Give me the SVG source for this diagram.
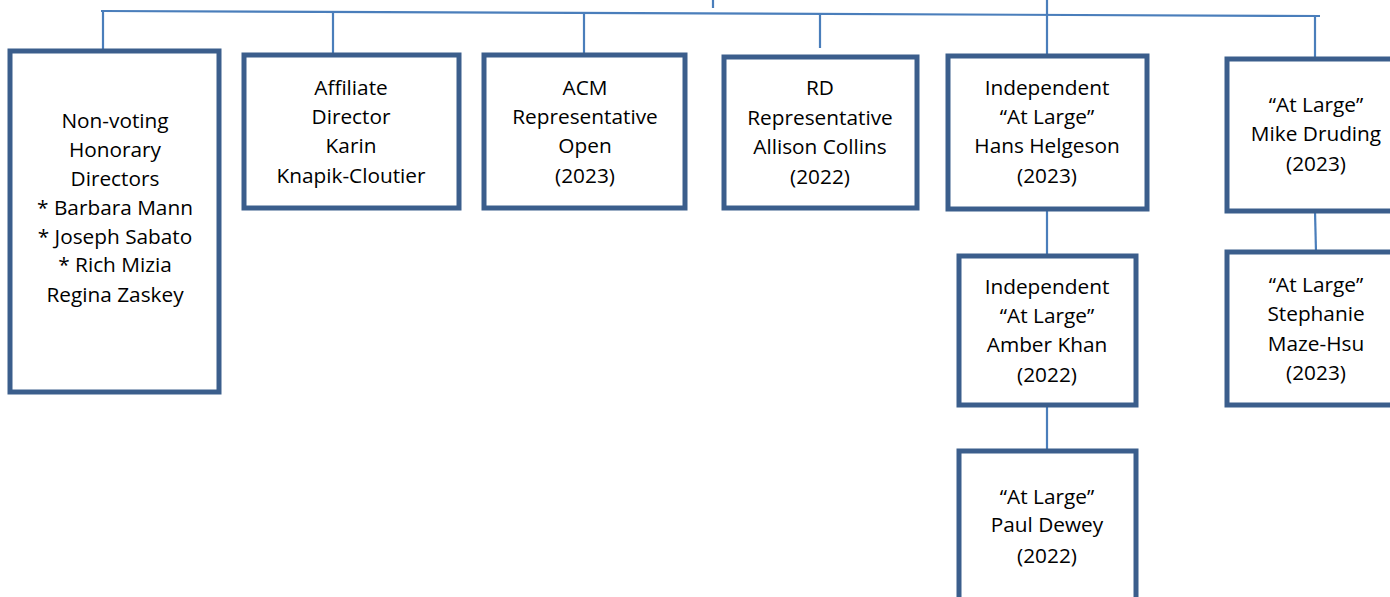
<svg xmlns="http://www.w3.org/2000/svg" width="1390" height="597" viewBox="0 0 1390 597">
<style>
.box{fill:#fff;stroke:#3B5E8C;stroke-width:5}
.c{stroke:#4A7EBB;stroke-width:2.2;fill:none}
text{font-family:"Open Sans","Liberation Sans",sans-serif;font-size:20.8px;fill:#000;text-anchor:middle}
</style>
<rect width="1390" height="597" fill="#fff"/>
<g id="connectors">
<line class="c" x1="101" y1="11" x2="1320" y2="16"/>
<line class="c" x1="713" y1="0" x2="713" y2="8"/>
<line class="c" x1="103" y1="11" x2="103" y2="50"/>
<line class="c" x1="333" y1="12" x2="333" y2="55"/>
<line class="c" x1="584" y1="13" x2="584" y2="55"/>
<line class="c" x1="820" y1="14" x2="820" y2="48"/>
<line class="c" x1="1047" y1="0" x2="1047" y2="55"/>
<line class="c" x1="1315" y1="16" x2="1315" y2="59"/>
<line class="c" x1="1047" y1="209" x2="1047" y2="256"/>
<line class="c" x1="1315" y1="211" x2="1316" y2="252"/>
<line class="c" x1="1047" y1="405" x2="1047" y2="451"/>
</g>
<g id="n1"><rect class="box" x="10" y="51" width="209" height="341"/>
<text x="115" y="128">Non-voting</text><text x="115" y="157">Honorary</text><text x="115" y="186">Directors</text><text x="115" y="215">* Barbara Mann</text><text x="115" y="244">* Joseph Sabato</text><text x="115" y="272">* Rich Mizia</text><text x="115" y="302">Regina Zaskey</text></g>
<g id="n2"><rect class="box" x="244" y="55" width="215" height="153"/>
<text x="351" y="95">Affiliate</text><text x="351" y="124">Director</text><text x="351" y="153">Karin</text><text x="351" y="183">Knapik-Cloutier</text></g>
<g id="n3"><rect class="box" x="484" y="55" width="201" height="153"/>
<text x="585" y="95">ACM</text><text x="585" y="124">Representative</text><text x="585" y="153">Open</text><text x="585" y="183">(2023)</text></g>
<g id="n4"><rect class="box" x="724" y="57" width="193" height="151"/>
<text x="820" y="95">RD</text><text x="820" y="125">Representative</text><text x="820" y="154">Allison Collins</text><text x="820" y="184">(2022)</text></g>
<g id="n5"><rect class="box" x="948" y="56" width="199" height="153"/>
<text x="1047" y="95">Independent</text><text x="1047" y="124">“At Large”</text><text x="1047" y="153">Hans Helgeson</text><text x="1047" y="183">(2023)</text></g>
<g id="n6"><rect class="box" x="1227" y="59" width="175" height="152"/>
<text x="1316" y="112">“At Large”</text><text x="1316" y="141">Mike Druding</text><text x="1316" y="171">(2023)</text></g>
<g id="n7"><rect class="box" x="959" y="256" width="177" height="149"/>
<text x="1047" y="294">Independent</text><text x="1047" y="323">“At Large”</text><text x="1047" y="352">Amber Khan</text><text x="1047" y="382">(2022)</text></g>
<g id="n8"><rect class="box" x="1227" y="252" width="175" height="153"/>
<text x="1316" y="292">“At Large”</text><text x="1316" y="321">Stephanie</text><text x="1316" y="351">Maze-Hsu</text><text x="1316" y="380">(2023)</text></g>
<g id="n9"><rect class="box" x="959" y="451" width="177" height="160"/>
<text x="1047" y="504">“At Large”</text><text x="1047" y="532">Paul Dewey</text><text x="1047" y="563">(2022)</text></g>
</svg>
